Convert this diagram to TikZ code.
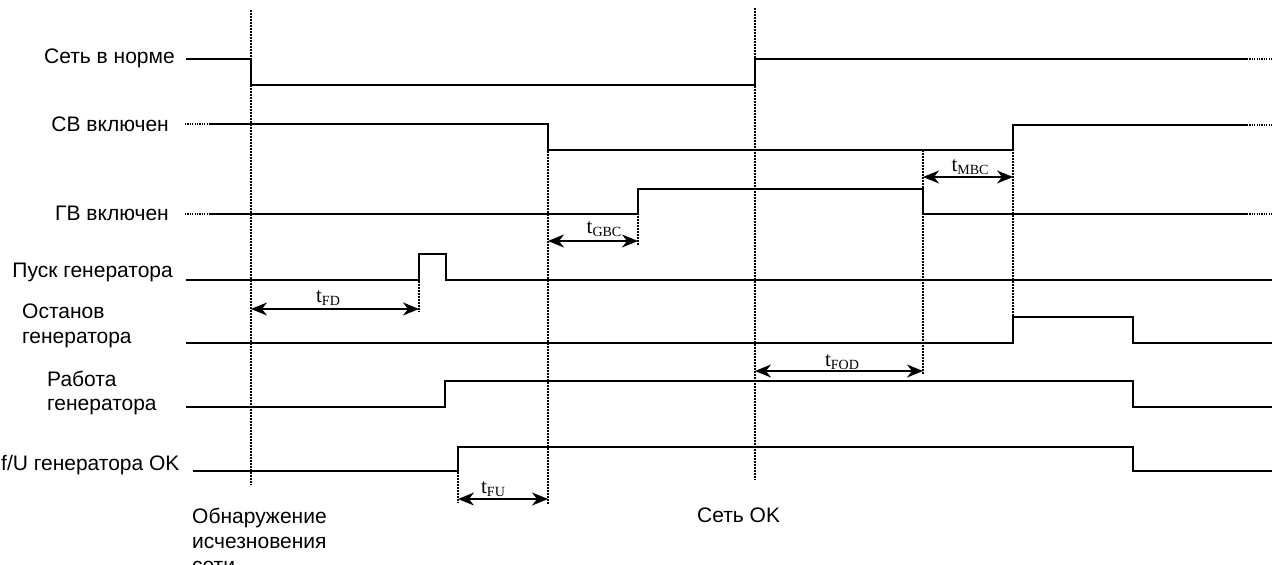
\documentclass[tikz,border=0pt]{standalone}
\usepackage{fontspec}
\setmainfont{Liberation Sans}
\newfontfamily\serifmath{Liberation Serif}
\usetikzlibrary{arrows.meta}
\begin{document}
\begin{tikzpicture}[x=1pt,y=-1pt,
 sig/.style={line width=1.8pt, line join=miter},
 ext/.style={line width=1.8pt, dash pattern=on 1.2pt off 1.2pt},
 vdot/.style={line width=1.6pt, dash pattern=on 1.5pt off 1.5pt},
 dim/.style={line width=1.6pt, {Stealth[length=16pt,width=13pt,inset=5pt]}-{Stealth[length=16pt,width=13pt,inset=5pt]}},
 lbl/.style={font=\fontsize{21}{24.5}\selectfont, inner sep=0pt},
 tl/.style={font=\serifmath\fontsize{21}{21}\selectfont, inner sep=0pt}]
\useasboundingbox (0,0) rectangle (1272,565);
\clip (0,0) rectangle (1272,565);
\fill[white] (0,0) rectangle (1272,565);

% vertical dotted markers
\draw[vdot] (251,10) -- (251,485);
\draw[vdot] (755,8) -- (755,480);
\draw[vdot] (548,124) -- (548,505);
\draw[vdot] (419,254) -- (419,312);
\draw[vdot] (638,189) -- (638,245);
\draw[vdot] (923,150) -- (923,375);
\draw[vdot] (1013,125) -- (1013,318);
\draw[vdot] (458,448) -- (458,503);

% signal traces
\draw[sig] (186,59) -- (251,59) -- (251,85) -- (755,85) -- (755,59) -- (1247,59);
\draw[ext] (1247,59) -- (1272,59);

\draw[ext] (185,124) -- (210,124);
\draw[sig] (210,124) -- (548,124) -- (548,150) -- (1013,150) -- (1013,125) -- (1247,125);
\draw[ext] (1247,125) -- (1272,125);

\draw[ext] (185,214) -- (210,214);
\draw[sig] (210,214) -- (638,214) -- (638,189) -- (923,189) -- (923,214) -- (1247,214);
\draw[ext] (1247,214) -- (1272,214);

\draw[sig] (186,280) -- (419,280) -- (419,254) -- (446,254) -- (446,280) -- (1272,280);
\draw[sig] (186,343) -- (1013,343) -- (1013,317) -- (1133,317) -- (1133,343) -- (1272,343);
\draw[sig] (186,407) -- (445,407) -- (445,381) -- (1133,381) -- (1133,407) -- (1272,407);
\draw[sig] (193,471) -- (458,471) -- (458,447) -- (1133,447) -- (1133,471) -- (1272,471);

% signal labels
\node[lbl, anchor=east] (s1) at (175,58) {Сеть в норме};
\node[lbl, anchor=east] (s2) at (169,124) {СВ включен};
\node[lbl, anchor=east] (s3) at (169,213) {ГВ включен};
\node[lbl, anchor=east] (s4) at (173,272) {Пуск генератора};
\node[lbl, anchor=west, align=left] (s5) at (22,326) {Останов\\генератора};
\node[lbl, anchor=west, align=left] (s6) at (47,393) {Работа\\генератора};
\node[lbl, anchor=west] (s7) at (1,465) {f/U генератора OK};

% event labels
\node[lbl, anchor=north west, align=left] (e1) at (192,508) {Обнаружение\\исчезновения\\сети};
\node[lbl, anchor=west] (e2) at (697,515) {Сеть OK};

% interval arrows
\coordinate (fd1) at (251,309); \coordinate (fd2) at (419,309);
\draw[dim] (fd1) -- (fd2);
\node[tl] (tfd) at (328,298) {t\raisebox{-0.35ex}{\fontsize{14}{14}\selectfont FD}};

\coordinate (gb1) at (548,241); \coordinate (gb2) at (638,241);
\draw[dim] (gb1) -- (gb2);
\node[tl] (tgb) at (604,229) {t\raisebox{-0.35ex}{\fontsize{14}{14}\selectfont GBC}};

\coordinate (mb1) at (923,177); \coordinate (mb2) at (1013,177);
\draw[dim] (mb1) -- (mb2);
\node[tl] (tmb) at (970,167) {t\raisebox{-0.35ex}{\fontsize{14}{14}\selectfont MBC}};

\coordinate (fo1) at (755,371); \coordinate (fo2) at (923,371);
\draw[dim] (fo1) -- (fo2);
\node[tl] (tfo) at (842,362) {t\raisebox{-0.35ex}{\fontsize{14}{14}\selectfont FOD}};

\coordinate (fu1) at (458,499); \coordinate (fu2) at (548,499);
\draw[dim] (fu1) -- (fu2);
\node[tl] (tfu) at (493,489) {t\raisebox{-0.35ex}{\fontsize{14}{14}\selectfont FU}};
\end{tikzpicture}
\end{document}
